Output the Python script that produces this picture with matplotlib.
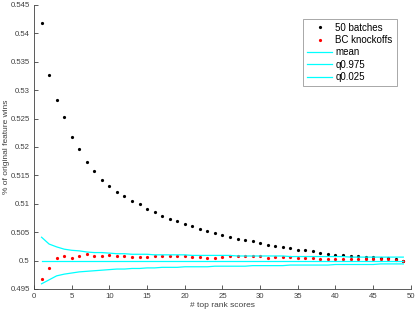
import matplotlib
matplotlib.use("Agg")
import matplotlib.pyplot as plt

plt.rcParams["font.family"] = ["Liberation Sans", "DejaVu Sans"]

# x positions: number of top rank scores
top_n = list(range(1, 50))

# fraction of original feature wins, 50 batches
batches_50 = [
    0.5418, 0.5326, 0.5283, 0.5252, 0.5217, 0.5196, 0.5174, 0.5158, 0.5141, 0.5131,
    0.5120, 0.5113, 0.5105, 0.5099, 0.5091, 0.5086, 0.5079, 0.5073, 0.5070, 0.5065,
    0.5060, 0.5056, 0.5052, 0.5049, 0.5045, 0.5041, 0.5038, 0.5036, 0.5034, 0.5031,
    0.5028, 0.5025, 0.5023, 0.5022, 0.5019, 0.5018, 0.5016, 0.5014, 0.5011, 0.5010,
    0.5009, 0.5008, 0.5008, 0.5007, 0.5006, 0.5005, 0.5004, 0.5002, 0.4999,
]

# BC knockoffs
bc_knockoffs = [
    0.4968, 0.4987, 0.5005, 0.5008, 0.5005, 0.5008, 0.5011, 0.5008, 0.5008, 0.5009,
    0.5008, 0.5008, 0.5007, 0.5007, 0.5007, 0.5008, 0.5008, 0.5008, 0.5008, 0.5008,
    0.5007, 0.5006, 0.5005, 0.5005, 0.5007, 0.5008, 0.5008, 0.5008, 0.5008, 0.5008,
    0.5005, 0.5006, 0.5007, 0.5007, 0.5005, 0.5005, 0.5005, 0.5003, 0.5003, 0.5003,
    0.5003, 0.5003, 0.5003, 0.5003, 0.5003, 0.5003, 0.5003, 0.5001, 0.5000,
]

# null distribution from permutations
null_mean = [0.5] * 49
q975 = [
    0.5041, 0.5029, 0.5024, 0.5020, 0.5018, 0.5017, 0.5015, 0.5014, 0.5014, 0.5013,
    0.5012, 0.5012, 0.5011, 0.5011, 0.5011, 0.5010, 0.5010, 0.5010, 0.5010, 0.5010,
    0.5009, 0.5009, 0.5009, 0.5009, 0.5009, 0.5009, 0.5008, 0.5008, 0.5008, 0.5008,
    0.5008, 0.5008, 0.5008, 0.5007, 0.5007, 0.5007, 0.5007, 0.5007, 0.5007, 0.5007,
    0.5007, 0.5006, 0.5006, 0.5006, 0.5006, 0.5006, 0.5006, 0.5006, 0.5006,
]
q025 = [
    0.4959, 0.4966, 0.4973, 0.4976, 0.4978, 0.4980, 0.4981, 0.4982, 0.4983, 0.4984,
    0.4985, 0.4985, 0.4986, 0.4986, 0.4987, 0.4987, 0.4988, 0.4988, 0.4988, 0.4989,
    0.4989, 0.4989, 0.4989, 0.4990, 0.4990, 0.4990, 0.4990, 0.4990, 0.4991, 0.4991,
    0.4991, 0.4991, 0.4991, 0.4992, 0.4992, 0.4992, 0.4992, 0.4992, 0.4992, 0.4993,
    0.4993, 0.4993, 0.4993, 0.4993, 0.4993, 0.4994, 0.4994, 0.4994, 0.4994,
]

GRAY = "#404040"

fig = plt.figure(figsize=(4.15, 3.12), dpi=100)
ax = fig.add_axes([0.082, 0.074, 0.908, 0.910])

ax.plot(top_n, batches_50, "o", color="black", ms=2.3, mew=0, label="50 batches")
ax.plot(top_n, bc_knockoffs, "o", color="red", ms=2.3, mew=0, label="BC knockoffs")
ax.plot(top_n, null_mean, color="cyan", lw=0.9, label="mean")
ax.plot(top_n, q975, color="cyan", lw=0.9, label="q0.975")
ax.plot(top_n, q025, color="cyan", lw=0.9, label="q0.025")

ax.set_xlim(0, 50)
ax.set_ylim(0.495, 0.545)
ax.set_xticks(range(0, 51, 5))
ax.set_yticks([0.495 + 0.005 * i for i in range(11)])
ax.set_yticklabels(["0.495", "0.5", "0.505", "0.51", "0.515", "0.52",
                    "0.525", "0.53", "0.535", "0.54", "0.545"])

for s in ("top", "right"):
    ax.spines[s].set_visible(False)
for s in ("left", "bottom"):
    ax.spines[s].set_color(GRAY)
    ax.spines[s].set_linewidth(0.6)
ax.tick_params(direction="in", length=3, width=0.6, colors=GRAY, labelsize=5.6, pad=3)

ax.set_xlabel("# top rank scores", fontsize=6, color=GRAY)
ax.set_ylabel("% of original feature wins", fontsize=6, color=GRAY)
ax.xaxis.set_label_coords(0.5, -0.045)
ax.yaxis.set_label_coords(-0.063, 0.5)

leg = ax.legend(loc="upper right", bbox_to_anchor=(0.962, 0.952), fontsize=7,
                frameon=True, fancybox=False, handlelength=2.6, handletextpad=0.3,
                borderpad=0.4, labelspacing=0.25, markerscale=1.0, borderaxespad=0)
leg.get_frame().set_edgecolor("#808080")
leg.get_frame().set_linewidth(0.6)

fig.savefig("out.png", dpi=100)
